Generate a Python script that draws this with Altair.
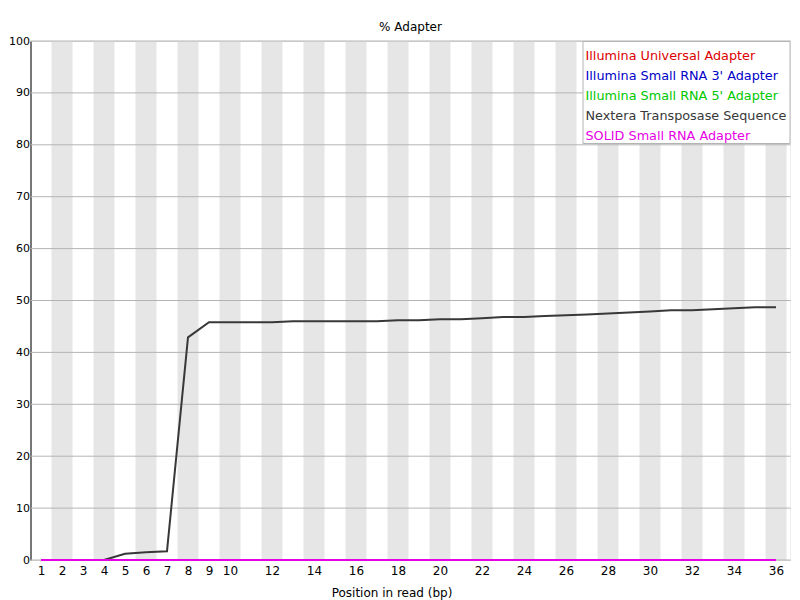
import altair as alt
import pandas as pd

positions = list(range(1, 37))
series_names = [
    "Illumina Universal Adapter",
    "Illumina Small RNA 3' Adapter",
    "Illumina Small RNA 5' Adapter",
    "Nextera Transposase Sequence",
    "SOLID Small RNA Adapter",
]
series_colors = ["#dc0000", "#0000c8", "#00c800", "#383838", "#e600e6"]

illumina_universal = [0.0] * 36
small_rna_3 = [0.0] * 36
small_rna_5 = [0.0] * 36
nextera = [0.0, 0.0, 0.0, 0.0, 1.2, 1.5, 1.7, 42.9, 45.8, 45.8, 45.8, 45.8,
           46.0, 46.0, 46.0, 46.0, 46.0, 46.2, 46.2, 46.4, 46.4, 46.6, 46.8, 46.8,
           47.0, 47.15, 47.3, 47.5, 47.7, 47.9, 48.1, 48.1, 48.3, 48.5, 48.7, 48.7]
solid = [0.0] * 36
series_values = [illumina_universal, small_rna_3, small_rna_5, nextera, solid]

x_tick_values = list(range(1, 11)) + list(range(12, 37, 2))
y_tick_values = list(range(0, 101, 10))

W, H = 760, 519
FONT = "DejaVu Sans"

xscale = alt.Scale(domain=[0.5, 36.5 + 4 / 21], nice=False, zero=False)
yscale = alt.Scale(domain=[0, 100], nice=False)

x_axis = alt.Axis(values=x_tick_values, title="Position in read (bp)",
                  grid=False, ticks=False, domain=False, labelFont=FONT,
                  labelFontSize=12, labelColor="black", labelPadding=5,
                  labelOverlap=False, labelFlush=False, labelBound=False,
                  titleFont=FONT, titleFontSize=12, titleFontWeight="normal",
                  titleColor="black", titlePadding=11, titleX=361)
y_axis = alt.Axis(values=y_tick_values, title=None, grid=False, ticks=False,
                  domain=True, domainColor="black", domainWidth=1,
                  labelFont=FONT, labelFontSize=11, labelColor="black",
                  labelPadding=1, labelFlush=False, labelOverlap=False)

bands = pd.DataFrame({"pos": [p for p in positions if p % 2 == 0]})
bands["lo"] = bands["pos"] - 0.5
bands["hi"] = bands["pos"] + 0.5
bands["ylo"] = 0
bands["yhi"] = 100

band_layer = alt.Chart(bands).mark_rect(color="#e6e6e6").encode(
    x=alt.X("lo:Q", scale=xscale, axis=x_axis),
    x2="hi:Q",
    y=alt.Y("ylo:Q", scale=yscale, axis=y_axis),
    y2="yhi:Q",
)

grid = pd.DataFrame({"v": y_tick_values})
grid_layer = alt.Chart(grid).mark_rule(color="#b4b4b4", strokeWidth=1).encode(
    y=alt.Y("v:Q", scale=yscale, axis=y_axis),
    x=alt.value(0),
    x2=alt.value(W),
)

layers = [band_layer, grid_layer]
for name, col, vals in zip(series_names, series_colors, series_values):
    df = pd.DataFrame({"pos": positions, "pct": vals, "series": name})
    layers.append(
        alt.Chart(df).mark_line(color=col, strokeWidth=2).encode(
            x=alt.X("pos:Q", scale=xscale, axis=x_axis),
            y=alt.Y("pct:Q", scale=yscale, axis=y_axis),
        )
    )

legend_box = alt.Chart(pd.DataFrame({"a": [0]})).mark_rect(
    fill="white", stroke="#b4b4b4", strokeWidth=1
).encode(x=alt.value(552.5), x2=alt.value(759.5), y=alt.value(0.5), y2=alt.value(102.5))
layers.append(legend_box)

for i, (name, col) in enumerate(zip(series_names, series_colors)):
    layers.append(
        alt.Chart(pd.DataFrame({"label": [name]})).mark_text(
            align="left", baseline="middle", font=FONT, fontSize=12.8, color=col
        ).encode(text="label:N", x=alt.value(555), y=alt.value(15 + 20 * i))
    )

chart = alt.layer(*layers).properties(
    width=W, height=H,
    title=alt.Title("% Adapter", font=FONT, fontSize=12, fontWeight="normal",
                    color="black", anchor="middle", offset=1),
    autosize=alt.AutoSizeParams(type="none"),
    padding={"left": 22.5, "top": 33, "right": 0, "bottom": 40},
).configure_view(stroke=None).configure(background="white").configure_axisX(
    labelOverlap=False
)

chart.save("out.html", embed_options={"renderer": "svg", "actions": False})
